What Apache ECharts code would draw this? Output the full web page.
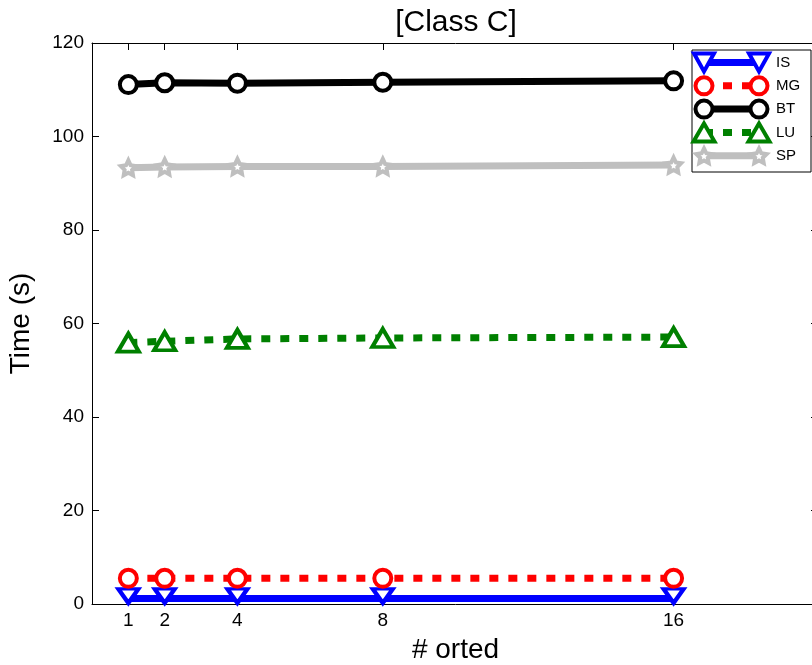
<!DOCTYPE html>
<html>
<head>
<meta charset="utf-8">
<title>[Class C]</title>
<script src="https://cdn.jsdelivr.net/npm/echarts@6/dist/echarts.min.js"></script>
<style>
  html, body { margin: 0; padding: 0; background: #fff; overflow: hidden; }
  #chart { width: 822px; height: 665px; }
</style>
</head>
<body>
<div id="chart"></div>
<script>
// Process counts on the x axis (also used as tick positions)
const procs = [1, 2, 4, 8, 16];

// Run time in seconds per benchmark
const isTime = [1.2, 1.2, 1.2, 1.2, 1.2];
const mgTime = [5.5, 5.5, 5.5, 5.5, 5.5];
const btTime = [111.1, 111.5, 111.4, 111.6, 111.9];
const luTime = [55.9, 56.2, 56.7, 56.9, 57.1];
const spTime = [93.3, 93.5, 93.6, 93.6, 93.9];

const seriesNames = ['IS', 'MG', 'BT', 'LU', 'SP'];
const seriesData = [isTime, mgTime, btTime, luTime, spTime];

const FONT = '"Liberation Sans", Arial, Helvetica, sans-serif';

// Five-point star outline in unit coordinates
function starPoints(r) {
  const pts = [];
  for (let i = 0; i < 10; i++) {
    const a = (-90 + i * 36) * Math.PI / 180;
    const rr = i % 2 === 0 ? r : r * 0.5;
    pts.push([rr * Math.cos(a), rr * Math.sin(a)]);
  }
  return pts;
}
const starPath = 'path://' + starPoints(1).map((p, i) =>
  (i === 0 ? 'M' : 'L') + p[0].toFixed(4) + ' ' + p[1].toFixed(4)).join(' ') + ' Z';

// Per-series look: colour, dash, marker
const styles = [
  { color: '#0000ff', dash: 'solid', symbol: 'triangle', size: [20, 14], rotate: 180, offset: [0, -2.5] },
  { color: '#ff0000', dash: [9, 10], symbol: 'circle', size: 17, rotate: 0, offset: [0, 0] },
  { color: '#000000', dash: 'solid', symbol: 'circle', size: 17, rotate: 0, offset: [0, 0] },
  { color: '#008000', dash: [9, 10], symbol: 'triangle', size: [21, 18], rotate: 0, offset: [0, 0] },
  { color: '#bfbfbf', dash: 'solid', symbol: starPath, size: 15, rotate: 0, offset: [0, 0] }
];

const series = seriesNames.map((name, i) => ({
  name: name,
  type: 'line',
  data: procs.map((p, j) => [p, seriesData[i][j]]),
  xAxisIndex: 0,
  yAxisIndex: 0,
  symbol: styles[i].symbol,
  symbolSize: styles[i].size,
  symbolRotate: styles[i].rotate,
  symbolOffset: styles[i].offset,
  showAllSymbol: true,
  lineStyle: { color: styles[i].color, width: 7, type: styles[i].dash, cap: 'butt' },
  itemStyle: { color: '#fff', borderColor: styles[i].color, borderWidth: 4 },
  emphasis: { disabled: true },
  animation: false
}));

// Legend box with a line and two markers per entry
function legendMarker(i, cx, cy) {
  const st = styles[i];
  const common = { fill: '#fff', stroke: st.color, lineWidth: 4 };
  if (i === 1 || i === 2) {
    return { type: 'circle', shape: { cx: cx, cy: cy, r: 8.5 }, style: common, z: 101 };
  }
  if (i === 0) {
    return { type: 'polygon', shape: { points: [[cx - 10, cy - 9], [cx + 10, cy - 9], [cx, cy + 9]] }, style: common, z: 101 };
  }
  if (i === 3) {
    return { type: 'polygon', shape: { points: [[cx, cy - 9], [cx + 10.5, cy + 9], [cx - 10.5, cy + 9]] }, style: common, z: 101 };
  }
  return { type: 'polygon', shape: { points: starPoints(8).map(p => [cx + p[0], cy + p[1] + 0.8]) }, style: common, z: 101 };
}

const legendElems = [{
  type: 'rect',
  shape: { x: 692, y: 50, width: 119, height: 122 },
  style: { fill: '#fff', stroke: '#000', lineWidth: 1 },
  z: 100
}];
seriesNames.forEach((name, i) => {
  const cy = 62.5 + i * 23.3;
  const st = styles[i];
  legendElems.push({
    type: 'line',
    shape: { x1: 704, y1: cy, x2: 759, y2: cy },
    style: { stroke: st.color, lineWidth: 7, lineDash: st.dash === 'solid' ? null : st.dash },
    z: 100
  });
  legendElems.push(legendMarker(i, 704, cy));
  legendElems.push(legendMarker(i, 759, cy));
  legendElems.push({
    type: 'text',
    style: { text: name, x: 776, y: cy, fill: '#000', font: '15px ' + FONT, textVerticalAlign: 'middle', textAlign: 'left' },
    z: 101
  });
});

const chart = echarts.init(document.getElementById('chart'), null, { renderer: 'canvas' });

chart.setOption({
  animation: false,
  backgroundColor: '#fff',
  grid: { left: 92, right: 3, top: 43, bottom: 61, containLabel: false, outerBoundsMode: 'none' },
  xAxis: [{
    type: 'value',
    position: 'bottom',
    min: 0,
    max: 20,
    name: '# orted',
    nameLocation: 'middle',
    nameGap: 32,
    nameTextStyle: { fontFamily: FONT, fontSize: 28, color: '#000' },
    axisLine: { show: true, onZero: false, lineStyle: { color: '#000', width: 1 } },
    axisTick: { show: true, inside: true, length: 7, customValues: procs, lineStyle: { color: '#000' } },
    axisLabel: { show: true, customValues: procs, margin: 7, fontFamily: FONT, fontSize: 19, color: '#000' },
    splitLine: { show: false }
  }, {
    type: 'value',
    position: 'top',
    min: 0,
    max: 20,
    axisLine: { show: true, onZero: false, lineStyle: { color: '#000', width: 1 } },
    axisTick: { show: true, inside: true, length: 7, customValues: procs, lineStyle: { color: '#000' } },
    axisLabel: { show: false },
    splitLine: { show: false }
  }],
  yAxis: [{
    type: 'value',
    position: 'left',
    min: 0,
    max: 120,
    interval: 20,
    name: 'Time (s)',
    nameLocation: 'middle',
    nameGap: 57,
    nameTextStyle: { fontFamily: FONT, fontSize: 28, color: '#000' },
    axisLine: { show: true, onZero: false, lineStyle: { color: '#000', width: 1 } },
    axisTick: { show: true, inside: true, length: 7, lineStyle: { color: '#000' } },
    axisLabel: { show: true, margin: 8, fontFamily: FONT, fontSize: 19, color: '#000' },
    splitLine: { show: false }
  }, {
    type: 'value',
    position: 'right',
    min: 0,
    max: 120,
    interval: 20,
    axisLine: { show: true, onZero: false, lineStyle: { color: '#000', width: 1 } },
    axisTick: { show: true, inside: true, length: 8, lineStyle: { color: '#000' } },
    axisLabel: { show: false },
    splitLine: { show: false }
  }],
  graphic: [{
    type: 'text',
    style: { text: '[Class C]', x: 456, y: 23, fill: '#000', font: '30px ' + FONT, textAlign: 'center', textVerticalAlign: 'middle' },
    z: 100
  }].concat(legendElems),
  series: series
});
</script>
</body>
</html>
